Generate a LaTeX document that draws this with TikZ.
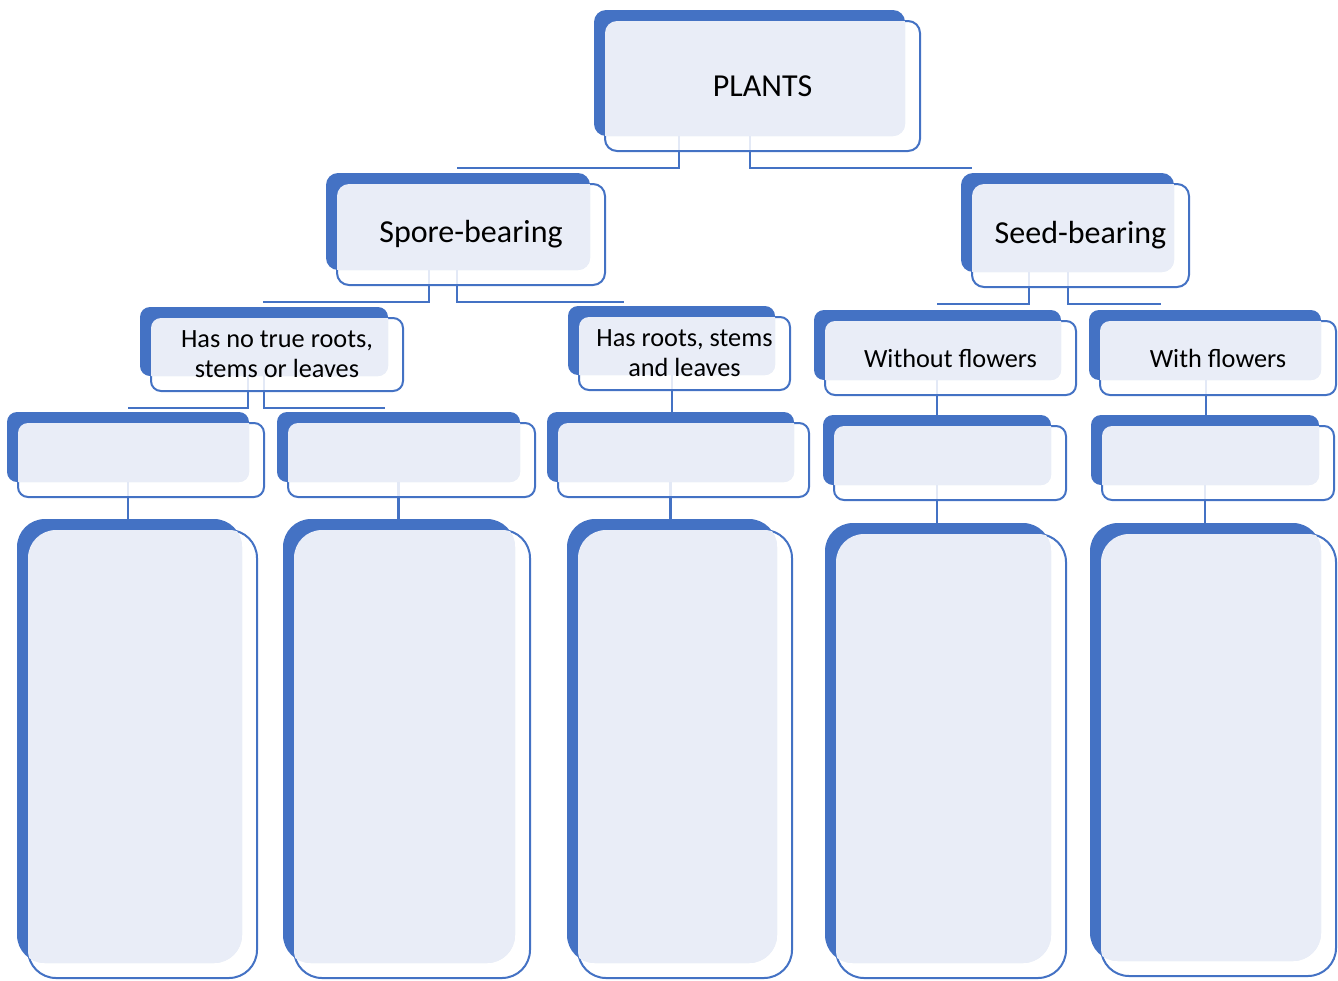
\documentclass[tikz,border=0pt]{standalone}
\usepackage{fontspec}
\setmainfont{Carlito}
\usetikzlibrary{backgrounds}

\definecolor{darkblue}{HTML}{4472C4}
\definecolor{paleblue}{HTML}{E9EDF7}

\tikzset{
    link/.style={draw=darkblue, line width=2.4pt},
    boxline/.style={draw=darkblue, line width=2pt},
    bigtext/.style={font=\fontsize{32}{38}\selectfont},
    smalltext/.style={font=\fontsize{26.3}{30}\selectfont}
}

% box: name, left, top, right, bottom, corner radius, text style, text
\newcommand{\plantbox}[8]{
    \fill[darkblue, rounded corners=#6pt] (#2-11,#3-11) rectangle (#4-15,#5-15);
    \draw[boxline, fill=white, fill opacity=0.85, rounded corners=#6pt] (#2,#3) rectangle (#4,#5);
    \begin{scope}
        \clip[rounded corners=#6pt] (#2-11,#3-11) rectangle (#4-15,#5-15);
        \fill[paleblue, rounded corners=#6pt] (#2,#3) rectangle (#4,#5);
    \end{scope}
    \node[#7, inner sep=0pt, align=center, minimum width={(#4-#2)*1pt}, minimum height={(#5-#3)*1pt}]
        (#1) at ({(#2+#4)/2},{(#3+#5)/2}) {#8};
}

\begin{document}
\begin{tikzpicture}[x=1pt, y=-1pt]
    \useasboundingbox (0,0) rectangle (1338,980);

    % Top
    \plantbox{plants}{605}{21}{920}{151}{12}{bigtext}{PLANTS}

    % First level
    \plantbox{spore}{337}{184}{605}{285}{12}{bigtext}{Spore-bearing}
    \plantbox{seed}{972}{184}{1189}{287}{12}{bigtext}{Seed-bearing}

    % Second level
    \plantbox{noroots}{151}{318}{403}{391}{10}{smalltext}{Has no true roots,\\stems or leaves}
    \plantbox{roots}{579}{317}{790}{390}{10}{smalltext}{Has roots, stems\\and leaves}
    \plantbox{noflowers}{825}{321}{1076}{395}{10}{smalltext}{Without flowers}
    \plantbox{flowers}{1100}{321}{1336}{395}{10}{smalltext}{With flowers}

    % Empty boxes - small
    \foreach \n/\xa/\ya/\xb/\yb in {low1/18/423/264/497, low2/288/423/535/497,
        low3/558/423/809/497, low4/834/426/1066/500, low5/1102/426/1334/500} {
        \plantbox{\n}{\xa}{\ya}{\xb}{\yb}{10}{smalltext}{}
    }

    % Empty boxes - tall
    \foreach \n/\xa/\ya/\xb/\yb in {tall1/28/530/257/978, tall2/294/530/530/978,
        tall3/578/530/792/978, tall4/836/534/1066/978, tall5/1101/534/1336/976} {
        \plantbox{\n}{\xa}{\ya}{\xb}{\yb}{28}{smalltext}{}
    }

    % Connectors
    \begin{scope}[on background layer]
        \draw[link] ([xshift=-83.5pt]plants.center) |- ([xshift=-14pt,yshift=16pt]spore.north);
        \draw[link] ([xshift=-12.5pt]plants.center) |- ([xshift=-108.5pt,yshift=16pt]seed.north);
        \draw[link] ([xshift=-42pt]spore.center) |- ([xshift=-14pt,yshift=16pt]noroots.north);
        \draw[link] ([xshift=-14pt]spore.center) |- ([xshift=-60.5pt,yshift=15pt]roots.north);
        \draw[link] ([xshift=-51.5pt]seed.center) |- ([xshift=-13.5pt,yshift=17pt]noflowers.north);
        \draw[link] ([xshift=-12.5pt]seed.center) |- ([xshift=-57pt,yshift=17pt]flowers.north);
        \draw[link] ([xshift=-29pt]noroots.center) |- ([xshift=-13pt,yshift=15pt]low1.north);
        \draw[link] ([xshift=-13pt]noroots.center) |- ([xshift=-26.5pt,yshift=15pt]low2.north);
        \draw[link] ([xshift=-12.5pt]roots.center) |- ([xshift=-12pt]low3.north);
        \draw[link] ([xshift=-13.5pt]noflowers.center) |- ([xshift=-13pt]low4.north);
        \draw[link] ([xshift=-12pt]flowers.center) |- ([xshift=-12pt]low5.north);
        \foreach \i in {1,...,5}
            \draw[link] ([xshift=-13pt]low\i.center) |- ([xshift=-13pt]tall\i.north);
    \end{scope}
\end{tikzpicture}
\end{document}
